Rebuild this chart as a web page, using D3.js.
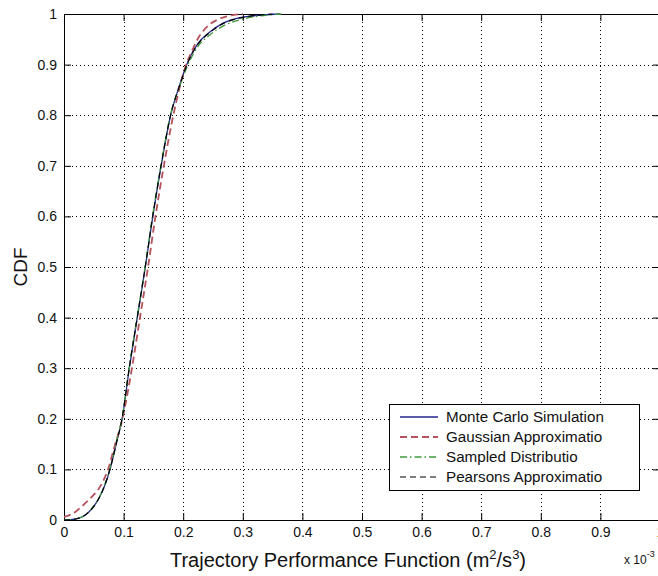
<!DOCTYPE html>
<html>
<head>
<meta charset="utf-8">
<script src="https://cdn.jsdelivr.net/npm/d3@7/dist/d3.min.js"></script>
<style>
  body { margin: 0; background: #fff; }
  text { font-family: "Liberation Sans", Arial, Helvetica, sans-serif; fill: #111; }
</style>
</head>
<body>
<svg id="chart" width="658" height="576"></svg>
<script>
// Axis ticks (x values are in units of 1e-3 m^2/s^3)
const xTickValues = [0, 0.1, 0.2, 0.3, 0.4, 0.5, 0.6, 0.7, 0.8, 0.9, 1];
const xTickLabels = ["0", "0.1", "0.2", "0.3", "0.4", "0.5", "0.6", "0.7", "0.8", "0.9", "1"];
const yTickValues = [0, 0.1, 0.2, 0.3, 0.4, 0.5, 0.6, 0.7, 0.8, 0.9, 1];
const yTickLabels = ["0", "0.1", "0.2", "0.3", "0.4", "0.5", "0.6", "0.7", "0.8", "0.9", "1"];

const seriesNames = [
  "Monte Carlo Simulation",
  "Gaussian Approximatio",
  "Sampled Distributio",
  "Pearsons Approximatio"
];

// CDF curves as [x, F(x)] pairs
const monteCarlo = [
  [0, 0], [0.01, 0.0005], [0.02, 0.002], [0.03, 0.006], [0.04, 0.014], [0.05, 0.027],
  [0.06, 0.046], [0.07, 0.073], [0.077, 0.099], [0.088, 0.152], [0.0975, 0.2],
  [0.1096, 0.3], [0.123, 0.4], [0.1365, 0.5], [0.149, 0.6], [0.163, 0.7], [0.179, 0.8],
  [0.195, 0.863], [0.206, 0.9], [0.225, 0.942], [0.242, 0.962], [0.267, 0.982],
  [0.295, 0.993], [0.334, 0.998], [0.362, 1.0]
];
const gaussian = [
  [0, 0.006], [0.01, 0.01], [0.02, 0.017], [0.03, 0.027], [0.04, 0.038], [0.05, 0.05],
  [0.06, 0.065], [0.07, 0.088], [0.074, 0.1], [0.08, 0.125], [0.086, 0.15], [0.098, 0.2],
  [0.114, 0.3], [0.1275, 0.4], [0.141, 0.5], [0.1535, 0.6], [0.1675, 0.7], [0.1835, 0.8],
  [0.205, 0.9], [0.214, 0.925], [0.224, 0.95], [0.234, 0.967], [0.245, 0.98],
  [0.26, 0.99], [0.279, 0.997], [0.3, 1.0]
];
const sampled = [
  [0, 0], [0.01, 0.0005], [0.02, 0.002], [0.03, 0.006], [0.04, 0.015], [0.05, 0.028],
  [0.06, 0.047], [0.07, 0.075], [0.077, 0.101], [0.088, 0.155], [0.0972, 0.2],
  [0.1092, 0.3], [0.1225, 0.4], [0.136, 0.5], [0.1485, 0.6], [0.1625, 0.7], [0.1785, 0.8],
  [0.195, 0.86], [0.207, 0.897], [0.226, 0.938], [0.244, 0.958], [0.27, 0.978],
  [0.3, 0.99], [0.335, 0.997], [0.365, 1.0]
];
const pearsons = [
  [0, 0], [0.01, 0.0004], [0.02, 0.002], [0.03, 0.006], [0.04, 0.014], [0.05, 0.027],
  [0.06, 0.046], [0.07, 0.074], [0.077, 0.1], [0.088, 0.153], [0.0973, 0.2],
  [0.1094, 0.3], [0.1228, 0.4], [0.1363, 0.5], [0.1488, 0.6], [0.1628, 0.7], [0.1788, 0.8],
  [0.195, 0.862], [0.206, 0.899], [0.225, 0.941], [0.242, 0.961], [0.267, 0.981],
  [0.295, 0.992], [0.33, 0.998], [0.35, 1.0]
];

const seriesData = [monteCarlo, gaussian, sampled, pearsons];
const seriesStyle = [
  { color: "#25258f", dash: null, width: 1.3 },
  { color: "#b5525c", dash: "7,4", width: 1.8 },
  { color: "#3f9a3f", dash: "7,3,1.5,3", width: 1.3 },
  { color: "#000000", dash: "6,4", width: 1.2 }
];

const svg = d3.select("#chart");
svg.append("rect").attr("width", 658).attr("height", 576).attr("fill", "#fff");

const plot = { left: 64, top: 14, right: 660, bottom: 520 };
const x = d3.scaleLinear().domain([0, 1]).range([plot.left, plot.right]);
const y = d3.scaleLinear().domain([0, 1]).range([plot.bottom, plot.top]);

// Dotted grid
const grid = svg.append("g").attr("stroke", "#000").attr("stroke-width", 1)
  .attr("stroke-dasharray", "1,3").attr("fill", "none");
xTickValues.filter(v => v > 0 && v < 1).forEach(v => {
  grid.append("line").attr("x1", Math.round(x(v)) + 0.5).attr("x2", Math.round(x(v)) + 0.5)
    .attr("y1", plot.top).attr("y2", plot.bottom);
});
yTickValues.filter(v => v > 0 && v < 1).forEach(v => {
  grid.append("line").attr("y1", Math.round(y(v)) + 0.5).attr("y2", Math.round(y(v)) + 0.5)
    .attr("x1", plot.left).attr("x2", plot.right);
});

// Axes with inward ticks
function styleAxis(g) {
  g.select(".domain").remove();
  g.selectAll(".tick line").attr("stroke", "#000").attr("stroke-width", 1);
  g.selectAll(".tick text").attr("font-size", 14).attr("fill", "#111")
    .attr("font-family", '"Liberation Sans", Arial, Helvetica, sans-serif');
}
svg.append("g").attr("transform", `translate(0,${plot.bottom})`)
  .call(d3.axisBottom(x).tickValues(xTickValues).tickFormat((d, i) => xTickLabels[i])
    .tickSize(-7).tickSizeOuter(0).tickPadding(7))
  .call(styleAxis);
svg.append("g").attr("transform", `translate(0,${plot.top})`)
  .call(d3.axisTop(x).tickValues(xTickValues).tickFormat("").tickSize(-7).tickSizeOuter(0))
  .call(styleAxis);
svg.append("g").attr("transform", `translate(${plot.left},0)`)
  .call(d3.axisLeft(y).tickValues(yTickValues).tickFormat((d, i) => yTickLabels[i])
    .tickSize(-7).tickSizeOuter(0).tickPadding(7))
  .call(styleAxis);
svg.append("g").attr("transform", `translate(${plot.right},0)`)
  .call(d3.axisRight(y).tickValues(yTickValues).tickFormat("").tickSize(-7).tickSizeOuter(0))
  .call(styleAxis);

// Plot box
svg.append("rect")
  .attr("x", plot.left + 0.5).attr("y", plot.top + 0.5)
  .attr("width", plot.right - plot.left).attr("height", plot.bottom - plot.top)
  .attr("fill", "none").attr("stroke", "#000").attr("stroke-width", 1);

// Curves
svg.append("clipPath").attr("id", "plot-clip").append("rect")
  .attr("x", plot.left).attr("y", plot.top - 2)
  .attr("width", plot.right - plot.left).attr("height", plot.bottom - plot.top + 2);

const line = d3.line().x(d => x(d[0])).y(d => y(d[1])).curve(d3.curveMonotoneX);
const curves = svg.append("g").attr("clip-path", "url(#plot-clip)");
seriesData.forEach((data, i) => {
  const s = seriesStyle[i];
  curves.append("path").datum(data)
    .attr("d", line)
    .attr("fill", "none")
    .attr("stroke", s.color)
    .attr("stroke-width", s.width)
    .attr("stroke-dasharray", s.dash)
    .attr("stroke-linejoin", "round");
});

// Legend
const legend = { left: 389, top: 404, width: 250, height: 86, rowTop: 417, rowStep: 20 };
const lg = svg.append("g");
lg.append("rect")
  .attr("x", legend.left + 0.5).attr("y", legend.top + 0.5)
  .attr("width", legend.width).attr("height", legend.height)
  .attr("fill", "#fff").attr("stroke", "#000").attr("stroke-width", 1);
seriesNames.forEach((name, i) => {
  const s = seriesStyle[i];
  const yy = legend.rowTop + i * legend.rowStep;
  lg.append("line")
    .attr("x1", legend.left + 11).attr("x2", legend.left + 49)
    .attr("y1", yy).attr("y2", yy)
    .attr("stroke", s.color).attr("stroke-width", s.width)
    .attr("stroke-dasharray", s.dash);
  lg.append("text")
    .attr("x", legend.left + 57).attr("y", yy).attr("dy", "0.35em")
    .attr("font-size", 15.2).text(name);
});

// Axis titles
const xTitle = svg.append("text")
  .attr("x", 348).attr("y", 567).attr("text-anchor", "middle").attr("font-size", 20);
xTitle.append("tspan").text("Trajectory Performance Function (m");
xTitle.append("tspan").attr("font-size", 13).attr("dy", -8).text("2");
xTitle.append("tspan").attr("dy", 8).text("/s");
xTitle.append("tspan").attr("font-size", 13).attr("dy", -8).text("3");
xTitle.append("tspan").attr("dy", 8).text(")");

svg.append("text")
  .attr("transform", "translate(27,267) rotate(-90)")
  .attr("text-anchor", "middle").attr("font-size", 19).text("CDF");

// Scale factor for the x axis
const expo = svg.append("text").attr("x", 624).attr("y", 564).attr("font-size", 12);
expo.append("tspan").text("x 10");
expo.append("tspan").attr("font-size", 9).attr("dy", -7).text("-3");
</script>
</body>
</html>
